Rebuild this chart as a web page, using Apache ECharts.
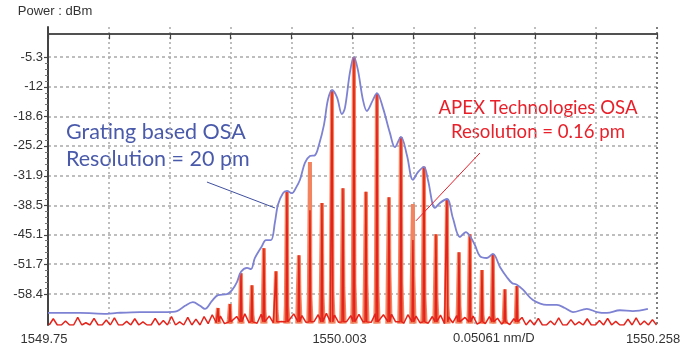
<!DOCTYPE html>
<html>
<head>
<meta charset="utf-8">
<script src="https://cdn.jsdelivr.net/npm/echarts@6/dist/echarts.min.js"></script>
<style>
  html, body { margin: 0; padding: 0; background: #ffffff; }
  #chart { width: 688px; height: 351px; }
</style>
</head>
<body>
<div id="chart"></div>
<script>
// Axis ranges (nm, dBm)
const xMin = 1549.75, xMax = 1550.258;
const yMin = -65.3, yMax = 1.4;

// Vertical grid divisions (0.0508 nm/div) and the labelled positions
const xGrid = [1549.75, 1549.8008, 1549.8516, 1549.9024, 1549.9532, 1550.004,
               1550.0548, 1550.1056, 1550.1564, 1550.2072, 1550.258];
const xLabelAt = [1549.75, 1550.004, 1550.258];
const xLabelText = ['1549.75', '1550.003', '1550.258'];
const spanText = '0.05061 nm/D';

// Horizontal grid / tick labels (dBm)
const yTicks = [-5.3, -12, -18.6, -25.2, -31.9, -38.5, -45.1, -51.7, -58.4];

// Grating-based OSA trace (20 pm resolution): wavelength, power
const gratingWl = [1549.7500, 1549.7767, 1549.7992, 1549.8075, 1549.8267, 1549.8493, 1549.8576,
  1549.8643, 1549.8709, 1549.8768, 1549.8809, 1549.8868, 1549.8918, 1549.8993, 1549.9035,
  1549.9076, 1549.9110, 1549.9160, 1549.9193, 1549.9226, 1549.9285, 1549.9318, 1549.9360,
  1549.9393, 1549.9418, 1549.9460, 1549.9493, 1549.9535, 1549.9568, 1549.9602, 1549.9643,
  1549.9685, 1549.9727, 1549.9760, 1549.9802, 1549.9835, 1549.9869, 1549.9910, 1549.9952,
  1549.9977, 1550.0019, 1550.0052, 1550.0085, 1550.0127, 1550.0160, 1550.0211, 1550.0244,
  1550.0294, 1550.0352, 1550.0394, 1550.0444, 1550.0494, 1550.0544, 1550.0586, 1550.0636,
  1550.0669, 1550.0728, 1550.0769, 1550.0828, 1550.0878, 1550.0936, 1550.0986, 1550.1019,
  1550.1061, 1550.1103, 1550.1161, 1550.1211, 1550.1270, 1550.1328, 1550.1370, 1550.1411,
  1550.1462, 1550.1545, 1550.1662, 1550.1745, 1550.1812, 1550.1879, 1550.1995, 1550.2079,
  1550.2162, 1550.2271, 1550.2379, 1550.2504];
const gratingDbm = [-62.6, -62.6, -62.8, -62.6, -62.4, -62.4, -62.2,
  -61.0, -60.2, -61.0, -61.7, -59.9, -58.6, -58.4, -57.5,
  -55.7, -53.4, -52.5, -52.8, -50.3, -47.6, -46.3, -46.3,
  -42.3, -38.4, -35.8, -35.3, -35.8, -34.6, -32.8, -29.0,
  -27.5, -27.3, -25.0, -20.5, -14.9, -12.7, -14.3, -18.1,
  -16.7, -8.7, -5.3, -8.2, -14.9, -17.4, -14.9, -13.4,
  -16.7, -22.3, -25.5, -23.2, -27.3, -32.8, -31.1, -29.9,
  -32.8, -39.1, -38.0, -37.1, -41.4, -45.6, -44.5, -45.4,
  -47.4, -49.9, -50.3, -49.4, -52.3, -54.6, -55.9, -56.3,
  -57.4, -59.7, -60.8, -60.8, -61.5, -62.4, -61.7, -62.4,
  -62.6, -62.0, -62.2, -61.7];

// APEX OSA trace (0.16 pm resolution): comb lines
const combWl = [1549.8918, 1549.9018, 1549.9110, 1549.9201, 1549.9301, 1549.9402, 1549.9493,
  1549.9593, 1549.9685, 1549.9785, 1549.9869, 1549.9960, 1550.0052, 1550.0152, 1550.0244,
  1550.0344, 1550.0444, 1550.0544, 1550.0636, 1550.0736, 1550.0828, 1550.0928, 1550.1019,
  1550.1120, 1550.1211, 1550.1311, 1550.1411];
const combPeak = [-61.5, -60.6, -53.7, -56.4, -48.1, -53.3, -35.5,
  -49.7, -39.6, -38.0, -12.7, -34.7, -5.3, -35.5, -13.6,
  -36.7, -23.2, -46.3, -29.9, -45.0, -37.1, -49.0, -45.0,
  -53.0, -49.4, -57.3, -56.6];
// second sweep of the same comb (lighter trace)
const combPeak2 = [-61.5, -60.6, -53.7, -56.4, -48.1, -53.3, -35.5,
  -49.7, -28.8, -38.0, -12.7, -34.7, -5.3, -35.5, -13.6,
  -36.7, -23.2, -38.2, -29.9, -45.0, -37.1, -49.0, -45.0,
  -53.0, -49.4, -57.3, -56.6];
const combPedestal = [-64, -64, -63, -63, -62, -62, -61,
  -58, -59, -58, -58, -57, -56, -56, -57,
  -53.5, -56, -54.5, -59, -59, -61, -61, -62,
  -63, -63, -64, -64];

// APEX noise floor, sampled every 0.0034 nm from 1549.751 nm
const noiseStart = 1549.751, noiseStep = 0.0034;
const noiseDbm = [
  -65.3, -63.9, -65.3, -65.3, -64.4, -65.3, -65.3, -63.6, -65.3, -64.8,
  -65.3, -63.8, -65.3, -65.3, -64.2, -65.3, -63.7, -65.3, -65.3, -64.5,
  -65.3, -63.9, -65.3, -64.6, -65.3, -65.3, -63.8, -65.3, -64.3, -65.3,
  -63.4, -65.3, -64.6, -65.3, -63.6, -65.3, -64.0, -65.3,
  -63.4, -65.0, -63.0, -64.8, -63.3, -65.0, -62.9, -64.6, -63.4, -64.9,
  -62.8, -64.7, -63.2, -64.9, -62.9, -64.6, -63.3, -64.8, -62.7, -64.5,
  -63.1, -64.8, -62.8, -64.6, -63.2, -64.7, -62.6, -64.5, -63.0, -64.8,
  -62.7, -64.6, -63.1, -64.7, -62.8, -64.5, -63.2, -64.8, -62.9, -64.6,
  -63.3, -64.7, -62.8, -64.5, -63.0, -64.8, -62.9, -64.6, -63.4, -64.9,
  -63.0, -64.7, -63.3, -64.8, -62.9, -64.9, -63.4, -64.7, -63.1, -65.0,
  -63.5, -64.8, -63.2, -65.0, -63.6, -64.9, -63.3, -65.1, -63.7, -65.0,
  -63.4, -65.2, -63.8, -65.1, -63.5, -65.2, -63.9, -65.3, -63.6,
  -65.3, -64.2, -65.3, -63.8, -65.3, -65.3, -64.4, -65.3, -63.7, -65.3,
  -65.3, -64.1, -65.3, -64.6, -65.3, -63.9, -65.3, -65.3, -64.3, -65.3,
  -63.8, -65.3, -64.5, -65.3, -65.3, -64.0, -65.3, -63.7, -65.3, -64.4,
  -65.3, -64.1, -65.3
];
const combFloor = -64.6;

// Callout anchors [wavelength, dBm]
const gratingCallout = [[1549.8826, -33.3], [1549.9393, -39.1]];
const apexCallout = [[1550.1103, -26.8], [1550.0569, -42.0]];

// ---- build series data ----
const gratingData = gratingWl.map((w, i) => [w, gratingDbm[i]]);

const apexData = [];
noiseDbm.forEach((v, i) => {
  const w = noiseStart + i * noiseStep;
  if (combWl.every(c => Math.abs(c - w) > 0.0013)) apexData.push([w, v]);
});
combWl.forEach((w, i) => {
  apexData.push([w - 0.0007, combFloor], [w, combPeak[i]], [w + 0.0007, combFloor]);
});
apexData.sort((a, b) => a[0] - b[0]);

const apex2Data = [];
combWl.forEach((w, i) => {
  apex2Data.push(
    [w - 0.0014, -65.0], [w - 0.0009, combPedestal[i]], [w - 0.0004, combPedestal[i]],
    [w, combPeak2[i]],
    [w + 0.0004, combPedestal[i]], [w + 0.0009, combPedestal[i]], [w + 0.0014, -65.0],
    [w + 0.0020, '-']
  );
});

// minor ticks: four subdivisions between labelled levels
const yMinor = [];
for (let i = 0; i < yTicks.length - 1; i++) {
  const a = yTicks[i], b = yTicks[i + 1];
  for (let k = 1; k < 5; k++) yMinor.push(a + (b - a) * k / 5);
}

const axisFont = { color: '#333333', fontFamily: 'Liberation Sans, Arial, sans-serif', fontSize: 13 };
const vGridColors = xGrid.map((_, i) => i === xGrid.length - 1 ? '#555555' : '#a9a9a9');

const chart = echarts.init(document.getElementById('chart'), null, { renderer: 'canvas' });
chart.setOption({
  animation: false,
  backgroundColor: '#ffffff',
  grid: { left: 48, right: 31, top: 27, bottom: 26, containLabel: false },
  xAxis: [{
    type: 'value', min: xMin, max: xMax,
    axisLine: { show: true, lineStyle: { color: '#444444', width: 2 } },
    axisTick: { show: true, customValues: xGrid, length: 6, lineStyle: { color: '#444444', width: 1.2 } },
    axisLabel: {
      show: true, customValues: xLabelAt, margin: 8,
      ...axisFont,
      formatter: v => {
        const i = xLabelAt.findIndex(a => Math.abs(a - v) < 1e-6);
        if (i < 0) return '';
        if (i === 0) return '{l|' + xLabelText[i] + '}';
        if (i === 1) return '{c|' + xLabelText[i] + '}';
        return '{r|' + xLabelText[i] + '}';
      },
      rich: {
        l: { ...axisFont, padding: [0, 8, 0, 0] },
        c: { ...axisFont, padding: [0, 26, 0, 0] },
        r: { ...axisFont, padding: [0, 8, 0, 0] }
      }
    },
    splitLine: { show: true, lineStyle: { color: vGridColors, type: [2, 3], width: 1.5 } }
  }, {
    type: 'value', min: xMin, max: xMax, position: 'top',
    axisLine: { show: true, lineStyle: { color: '#555555', width: 1.5 } },
    axisTick: { show: false }, axisLabel: { show: false }, splitLine: { show: false }
  }],
  yAxis: [{
    type: 'value', min: yMin, max: yMax,
    name: 'Power : dBm',
    nameLocation: 'end',
    nameGap: 9,
    nameTextStyle: { ...axisFont, fontSize: 13, align: 'center', padding: [0, 0, 0, 14] },
    axisLine: { show: true, lineStyle: { color: '#444444', width: 2 } },
    axisTick: { show: true, customValues: yTicks, length: 4, lineStyle: { color: '#444444', width: 1.2 } },
    axisLabel: { show: true, customValues: yTicks, margin: 5, ...axisFont },
    splitLine: { show: true, lineStyle: { color: '#a9a9a9', type: [3, 3], width: 1.5 } }
  }, {
    type: 'value', min: yMin, max: yMax, position: 'left',
    axisLine: { show: false },
    axisTick: { show: true, customValues: yMinor, length: 3, lineStyle: { color: '#777777', width: 1 } },
    axisLabel: { show: false }, splitLine: { show: false }
  }],
  graphic: [
    { type: 'text', left: 453, top: 332,
      style: { text: spanText, fill: '#333333', font: '13px "Liberation Sans", Arial, sans-serif' } },
    { type: 'text', left: 66, top: 119,
      style: { text: 'Grating based OSA\nResolution = 20 pm', fill: '#4a5aab',
               font: '21.5px Lato, sans-serif', lineHeight: 27 } },
    { type: 'text', x: 538, y: 96,
      style: { text: 'APEX Technologies OSA\nResolution = 0.16 pm', fill: '#e8202a', align: 'center',
               font: '18.6px Lato, sans-serif', lineHeight: 24 } }
  ],
  series: [
    {
      name: 'APEX sweep 2', type: 'line', data: apex2Data, showSymbol: false, connectNulls: false,
      lineStyle: { color: '#f2845f', width: 4 }, z: 2, silent: true
    },
    {
      name: 'APEX OSA', type: 'line', data: apexData, showSymbol: false,
      lineStyle: { color: '#e4231b', width: 1.5 }, z: 3, silent: true,
      markLine: {
        silent: true, symbol: ['none', 'none'], label: { show: false },
        lineStyle: { color: '#e8202a', width: 1, type: 'solid' },
        data: [[{ coord: apexCallout[0] }, { coord: apexCallout[1] }]]
      }
    },
    {
      name: 'Grating OSA', type: 'line', data: gratingData, showSymbol: false, smooth: 0.35,
      lineStyle: { color: '#7d82d2', width: 1.8 }, z: 4, silent: true,
      markLine: {
        silent: true, symbol: ['none', 'none'], label: { show: false },
        lineStyle: { color: '#3f4f9f', width: 1, type: 'solid' },
        data: [[{ coord: gratingCallout[0] }, { coord: gratingCallout[1] }]]
      }
    }
  ]
});
</script>
</body>
</html>
